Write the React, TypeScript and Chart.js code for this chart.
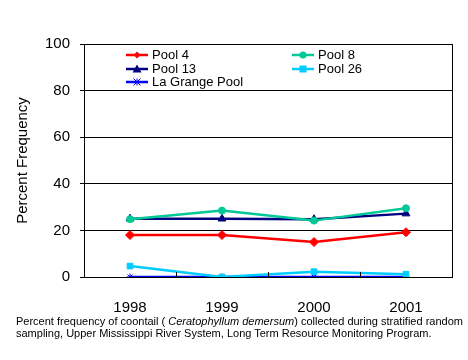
import React, { useEffect, useRef } from "react";
import { Chart, registerables } from "chart.js";

Chart.register(...registerables);

const years = ["1998", "1999", "2000", "2001"];
const pool4 = [18, 18, 15, 19.2];
const pool8 = [24.8, 28.5, 24.2, 29.5];
const pool13 = [25, 25, 24.8, 27.2];
const pool26 = [4.7, 0, 2.3, 1.2];
const laGrange = [0, 0, 0, 0];
const yTicks = [0, 20, 40, 60, 80, 100];

const FONT = "'Liberation Sans', Arial, sans-serif";

const framePlugin = {
  id: "frame",
  afterDraw(chart: any) {
    const { ctx, chartArea } = chart;
    const xs = chart.scales.x;
    ctx.save();
    ctx.strokeStyle = "#000";
    ctx.lineWidth = 1;
    ctx.strokeRect(
      Math.round(chartArea.left) + 0.5,
      Math.round(chartArea.top) + 0.5,
      Math.round(chartArea.right - chartArea.left),
      Math.round(chartArea.bottom - chartArea.top)
    );
    // inward category boundary ticks
    for (let i = 1; i < years.length; i++) {
      const x = Math.round((xs.getPixelForValue(i - 1) + xs.getPixelForValue(i)) / 2) + 0.5;
      ctx.beginPath();
      ctx.moveTo(x, chartArea.bottom);
      ctx.lineTo(x, chartArea.bottom - 5);
      ctx.stroke();
    }
    // legend
    const items = chart.data.datasets;
    const pos = [
      [126, 55],
      [292, 55],
      [126, 69],
      [292, 69],
      [126, 82],
    ];
    ctx.font = `13px ${FONT}`;
    ctx.textBaseline = "middle";
    ctx.textAlign = "left";
    items.forEach((ds: any, i: number) => {
      const [x, y] = pos[i];
      ctx.strokeStyle = ds.borderColor;
      ctx.lineWidth = 2.5;
      ctx.beginPath();
      ctx.moveTo(x, y);
      ctx.lineTo(x + 22, y);
      ctx.stroke();
      ctx.fillStyle = ds.borderColor;
      ctx.strokeStyle = ds.borderColor;
      ctx.lineWidth = 1;
      const ps = ds.pointStyle;
      const r = 3.5;
      const cx = x + 11;
      ctx.beginPath();
      if (ps === "circle") {
        ctx.arc(cx, y, r, 0, Math.PI * 2);
        ctx.fill();
      } else if (ps === "rectRot") {
        ctx.moveTo(cx, y - r);
        ctx.lineTo(cx + r, y);
        ctx.lineTo(cx, y + r);
        ctx.lineTo(cx - r, y);
        ctx.closePath();
        ctx.fill();
      } else if (ps === "triangle") {
        ctx.moveTo(cx, y - r - 1);
        ctx.lineTo(cx + r + 1, y + r);
        ctx.lineTo(cx - r - 1, y + r);
        ctx.closePath();
        ctx.fill();
      } else if (ps === "rect") {
        ctx.rect(cx - r, y - r, 2 * r, 2 * r);
        ctx.fill();
      } else {
        ctx.moveTo(cx - r, y - r);
        ctx.lineTo(cx + r, y + r);
        ctx.moveTo(cx + r, y - r);
        ctx.lineTo(cx - r, y + r);
        ctx.moveTo(cx, y - r);
        ctx.lineTo(cx, y + r);
        ctx.stroke();
      }
      ctx.fillStyle = "#000";
      ctx.fillText(ds.label, x + 26, y);
    });
    ctx.restore();
  },
};

export default function App() {
  const ref = useRef<HTMLCanvasElement>(null);
  useEffect(() => {
    if (!ref.current) return;
    const mk = (label: string, data: number[], color: string, pointStyle: string, radius = 4) => ({
      label,
      data,
      borderColor: color,
      backgroundColor: color,
      pointStyle,
      pointRadius: radius,
      pointBorderWidth: 1,
      borderWidth: 2.5,
      tension: 0,
    });
    const chart = new Chart(ref.current, {
      type: "line",
      data: {
        labels: years,
        datasets: [
          mk("Pool 4", pool4, "#FF0000", "rectRot", 4.5),
          mk("Pool 8", pool8, "#00C896", "circle", 3.5),
          mk("Pool 13", pool13, "#000080", "triangle", 4.5),
          mk("Pool 26", pool26, "#00CCFF", "rect", 4),
          mk("La Grange Pool", laGrange, "#0000FF", "star", 3.5),
        ] as any,
      },
      plugins: [framePlugin],
      options: {
        animation: false,
        responsive: false,
        devicePixelRatio: 1,
        layout: { padding: { top: 44, right: 16, bottom: 0, left: 0 } },
        plugins: { legend: { display: false }, tooltip: { enabled: false } },
        scales: {
          x: {
            type: "category",
            offset: true,
            grid: { display: false, offset: true },
            border: { color: "#000", width: 1 },
            ticks: { color: "#000", font: { family: FONT, size: 15 }, padding: 14, maxRotation: 0 },
            afterFit: (s: any) => {
              s.height = 83;
            },
          },
          y: {
            min: 0,
            max: 100,
            afterBuildTicks: (s: any) => {
              s.ticks = yTicks.map((v) => ({ value: v }));
            },
            grid: { color: "#000", lineWidth: 1, tickLength: 4 },
            border: { color: "#000", width: 1 },
            ticks: { color: "#000", font: { family: FONT, size: 15 }, padding: 10 },
            title: {
              display: true,
              text: "Percent Frequency",
              color: "#000",
              font: { family: FONT, size: 15 },
              padding: { top: 14, bottom: 0 },
            },
            afterFit: (s: any) => {
              s.width = 84;
            },
          },
        },
      },
    });
    return () => chart.destroy();
  }, []);
  return (
    <div style={{ position: "absolute", left: 0, top: 0, width: 468, height: 360, background: "#fff" }}>
      <canvas ref={ref} width={468} height={360} style={{ width: 468, height: 360, display: "block" }} />
      <div
        style={{
          position: "absolute",
          left: 16,
          top: 315,
          fontFamily: FONT,
          fontSize: 11,
          lineHeight: "12px",
          color: "#000",
          whiteSpace: "nowrap",
        }}
      >
        Percent frequency of coontail ( <i>Ceratophyllum demersum</i>) collected during stratified random
        <br />
        sampling, Upper Mississippi River System, Long Term Resource Monitoring Program.
      </div>
    </div>
  );
}
